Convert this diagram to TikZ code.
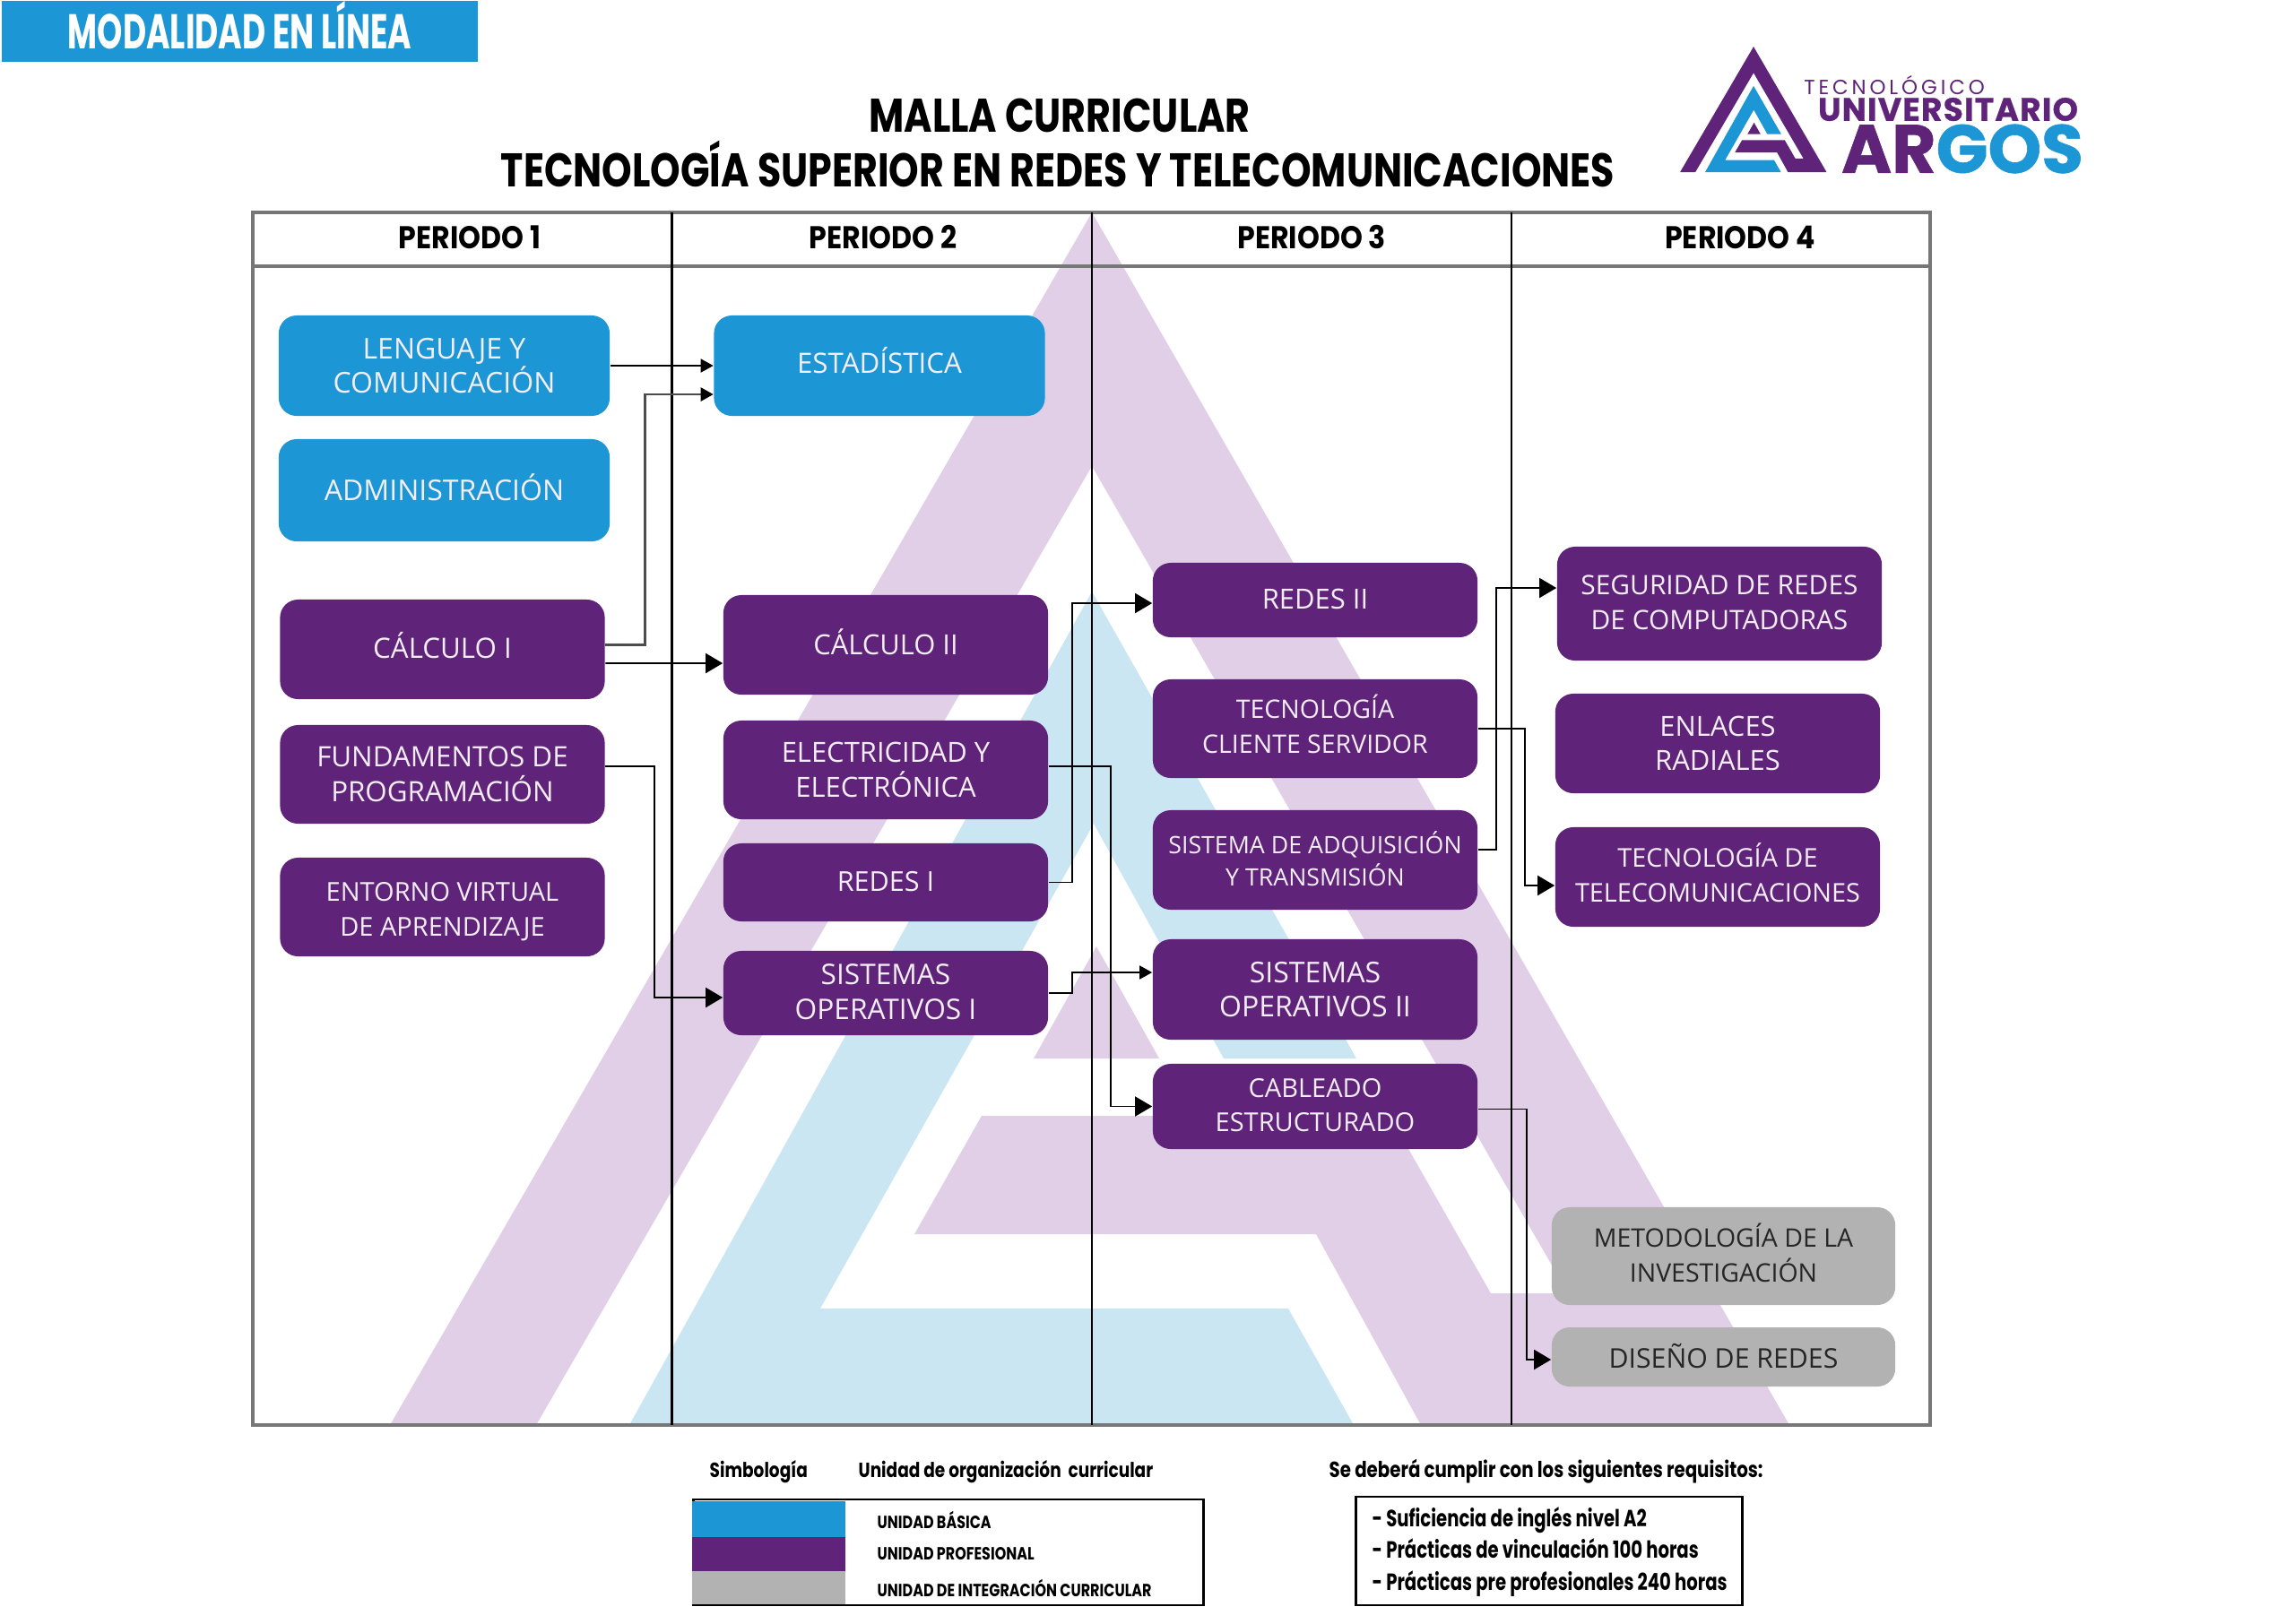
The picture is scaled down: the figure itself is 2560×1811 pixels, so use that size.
\documentclass[tikz,border=0pt]{standalone}
\usepackage{fontspec}
\setmainfont{Open Sans}
\newfontfamily\angosta[FakeStretch=0.75]{Poppins}
\newfontfamily\estrecha[FakeStretch=0.66]{Poppins}
\newfontfamily\mediana[FakeStretch=0.81]{Poppins}
\newfontfamily\ancha[FakeStretch=0.9]{Poppins}
\newfontfamily\poppins{Poppins}
\usepackage{tikz}
\usetikzlibrary{
  positioning,
  arrows.meta
}
\usepackage{xcolor}
\definecolor{basica}{HTML}{1C96D5}
\definecolor{profesional}{HTML}{5F2479}
\definecolor{integracion}{HTML}{B2B2B2}
\definecolor{moradoclaro}{HTML}{E0CFE6}
\definecolor{azulclaro}{HTML}{CBE6F3}
\definecolor{linea}{HTML}{777777}
\definecolor{textoclaro}{HTML}{F3EDF5}
\newcommand{\marcaargos}[2]{
  \fill[#1] (435,1590) -- (1218,237) -- (1996,1590) -- (1585,1590) -- (1468,1377)
    -- (1020,1377) -- (1095,1245) -- (1550,1245) -- (1663,1443) -- (1749,1443)
    -- (1218,520) -- (598,1590) -- cycle;
  \fill[#2] (702,1590) -- (1218,660) -- (1513,1181) -- (1365,1181) -- (1220,919)
    -- (915,1460) -- (1437,1460) -- (1510,1590) -- cycle;
  \fill[#1] (1223,1056) -- (1293,1181) -- (1153,1181) -- cycle;
}

\begin{document}
\begin{tikzpicture}[
  x=0.01cm, y=-0.01cm,
  letra/.style={font=\fontsize{#1}{11}\selectfont},
  curso/.style={rounded corners=0.2cm, inner sep=0pt, align=center, text=textoclaro,
               letra=8.6},
  unidadbasica/.style={curso, fill=basica, minimum width=3.69cm},
  unidadprofesional/.style={curso, fill=profesional, minimum width=3.62cm},
  unidadintegracion/.style={curso, fill=integracion, text=black!85, minimum width=3.83cm},
  enlace/.style={line width=0.5pt, -{Triangle[length=1.9mm,width=2.2mm,color=black]}},
  enlacecorto/.style={line width=0.5pt, -{Triangle[length=1.4mm,width=1.5mm,color=black]}},
  periodo/.style={font=\ancha\bfseries\fontsize{10}{11}\selectfont, text height=0.24cm, text depth=0pt},
  leyenda/.style={font=\mediana\bfseries\fontsize{6.5}{8}\selectfont, anchor=west, inner sep=0pt},
  unidadtexto/.style={leyenda, font=\mediana\bfseries\fontsize{5.6}{7}\selectfont},
]
  \useasboundingbox (0,0) rectangle (2560,1811);

  \marcaargos{moradoclaro}{azulclaro}

  \draw[line width=1pt, linea] (282,237) rectangle (2153,1590);
  \draw[line width=1pt, linea] (282,297) -- (2153,297);
  \foreach \columna in {749.5,1218,1686}
    \draw[line width=0.6pt] (\columna,237) -- (\columna,1590);

  \node[periodo] (p1) at (524,265) {PERIODO 1};
  \node[periodo] (p2) at (985,265) {PERIODO 2};
  \node[periodo] (p3) at (1463,265) {PERIODO 3};
  \node[periodo] (p4) at (1941,265) {PERIODO 4};

  \node[fill=basica, minimum width=5.31cm, minimum height=0.66cm, inner sep=0pt,
        text=white, font=\estrecha\bfseries\fontsize{15.5}{16}\selectfont, text depth=0.14cm] (modalidad) at (267.5,35) {MODALIDAD EN LÍNEA};

  \node[font=\mediana\bfseries\fontsize{15}{16}\selectfont] (titulo) at (1182,129) {MALLA CURRICULAR};
  \node[font=\mediana\bfseries\fontsize{15}{16}\selectfont] (subtitulo) at (1180,183) {TECNOLOGÍA SUPERIOR EN REDES Y TELECOMUNICACIONES};

  \begin{scope}[shift={(1828.5,27.5)}, xscale=0.1047, yscale=0.1035]
    \marcaargos{profesional}{basica}
  \end{scope}
  \node[font=\poppins\fontsize{6.5}{7}\selectfont, text=profesional] (tecno) at (2113,95)
    {\addfontfeature{LetterSpace=17}TECNOLÓGICO};
  \node[font=\poppins\bfseries\fontsize{10.3}{11}\selectfont, text=profesional] (univ) at (2173,122)
    {\addfontfeature{LetterSpace=3,FakeBold=0.6}UNIVERSITARIO};
  \node[font=\poppins\bfseries\fontsize{21.6}{22}\selectfont] (argos) at (2189,166)
    {\addfontfeature{FakeBold=0.8}\textcolor{profesional}{AR}\textcolor{basica}{GOS}};

  \node[unidadbasica, minimum height=1.12cm, letra=9.1] (lenguaje) at (495.5,408) {LENGUAJE Y\\COMUNICACIÓN};
  \node[unidadbasica, minimum height=1.14cm, letra=9.1, text depth=0.065cm] (administracion) at (495.5,547) {ADMINISTRACIÓN};
  \node[unidadbasica, minimum height=1.12cm, letra=8.9, text depth=0.13cm] (estadistica) at (981,408) {ESTADÍSTICA};

  \node[unidadprofesional, minimum height=1.11cm, letra=8.9, text depth=0.10cm] (calculoi) at (493.5,724.5) {CÁLCULO I};
  \node[unidadprofesional, minimum height=1.10cm, letra=8.9] (fundamentos) at (493.5,864) {FUNDAMENTOS DE\\PROGRAMACIÓN};
  \node[unidadprofesional, minimum height=1.10cm, letra=8.25, text height=0.65cm, text depth=0pt] (entorno) at (493.5,1012) {ENTORNO VIRTUAL\\DE APRENDIZAJE};

  \node[unidadprofesional, minimum height=1.11cm, letra=8.8, text depth=0.065cm] (calculoii) at (988,719.5) {CÁLCULO II};
  \node[unidadprofesional, minimum height=1.10cm, letra=8.8] (electricidad) at (988,859) {ELECTRICIDAD Y\\ELECTRÓNICA};
  \node[unidadprofesional, minimum height=0.87cm, letra=8.7, text depth=0.03cm] (redesi) at (988,984.5) {REDES I};
  \node[unidadprofesional, minimum height=0.94cm, letra=9, text depth=0.03cm] (sistemasi) at (988,1108) {SISTEMAS\\OPERATIVOS I};

  \node[unidadprofesional, minimum height=0.83cm, letra=8.8, text depth=0.03cm] (redesii) at (1467,669.5) {REDES II};
  \node[unidadprofesional, minimum height=1.10cm, letra=8.1, text depth=0.11cm] (cliente) at (1467,813) {TECNOLOGÍA\\CLIENTE SERVIDOR};
  \node[unidadprofesional, minimum height=1.11cm, font=\fontsize{7.6}{10}\selectfont, text depth=0.03cm] (adquisicion) at (1467,959.5) {SISTEMA DE ADQUISICIÓN\\Y TRANSMISIÓN};
  \node[unidadprofesional, minimum height=1.12cm, letra=9.1] (sistemasii) at (1467,1104) {SISTEMAS\\OPERATIVOS II};
  \node[unidadprofesional, minimum height=0.95cm, letra=8.25, text depth=0.03cm] (cableado) at (1467,1234.5) {CABLEADO\\ESTRUCTURADO};

  \node[unidadprofesional, minimum height=1.27cm, letra=8.5, text depth=0.03cm] (seguridad) at (1918,673.5) {SEGURIDAD DE REDES\\DE COMPUTADORAS};
  \node[unidadprofesional, minimum height=1.11cm, letra=8.8] (enlaces) at (1916,829.5) {ENLACES\\RADIALES};
  \node[unidadprofesional, minimum height=1.11cm, letra=8.2, text depth=0.10cm] (telecom) at (1916,978.5) {TECNOLOGÍA DE\\TELECOMUNICACIONES};
  \node[unidadintegracion, minimum height=1.09cm, letra=8.1, text depth=0.08cm] (metodologia) at (1922.5,1401.5) {METODOLOGÍA DE LA\\INVESTIGACIÓN};
  \node[unidadintegracion, minimum height=0.66cm, text depth=0.03cm] (diseno) at (1922.5,1514) {DISEÑO DE REDES};

  \draw[enlacecorto] (lenguaje.east) -- (estadistica.west);
  \draw[enlacecorto, draw=black!70, line width=0.7pt] ([yshift=0.05cm]calculoi.east) -| ([xshift=-0.76cm,yshift=-0.32cm]estadistica.west) -- ([yshift=-0.32cm]estadistica.west);
  \draw[enlace] ([yshift=-0.155cm]calculoi.east) -- ([yshift=-0.205cm]calculoii.west);
  \draw[enlace] ([yshift=0.09cm]fundamentos.east) -| ([xshift=-0.765cm,yshift=-0.05cm]sistemasi.west) -- ([yshift=-0.05cm]sistemasi.west);
  \draw[enlace] ([yshift=0.04cm]electricidad.east) -| ([xshift=-0.46cm]cableado.west) -- (cableado.west);
  \draw[enlace] (redesi.east) -| ([xshift=-0.89cm,yshift=-0.035cm]redesii.west) -- ([yshift=-0.035cm]redesii.west);
  \draw[enlacecorto] (sistemasi.east) -| ([xshift=-0.89cm,yshift=0.19cm]sistemasii.west) -- ([yshift=0.19cm]sistemasii.west);
  \draw[enlace] (cliente.east) -| ([xshift=-0.33cm,yshift=-0.095cm]telecom.west) -- ([yshift=-0.095cm]telecom.west);
  \draw[enlace] ([yshift=0.115cm]adquisicion.east) -| ([xshift=-0.67cm,yshift=0.175cm]seguridad.west) -- ([yshift=0.175cm]seguridad.west);
  \draw[enlace] ([yshift=-0.03cm]cableado.east) -| ([xshift=-0.275cm,yshift=-0.03cm]diseno.west) -- ([yshift=-0.03cm]diseno.west);

  \node[leyenda] (simbologia) at (791,1642) {Simbología};
  \node[leyenda] (unidad) at (957,1642) {Unidad de organización\ \ curricular};
  \node[leyenda, font=\mediana\bfseries\fontsize{6.95}{8}\selectfont] (requisitos) at (1482,1642) {Se deberá cumplir con los siguientes requisitos:};

  \node[draw, line width=0.8pt, minimum width=5.69cm, minimum height=1.18cm, inner sep=0pt] (cuadro) at (1058,1732) {};
  \node[fill=basica, minimum width=1.71cm, minimum height=0.40cm, inner sep=0pt] (simbolobasica) at (857.5,1695) {};
  \node[fill=profesional, minimum width=1.71cm, minimum height=0.38cm, inner sep=0pt] (simboloprofesional) at (857.5,1734) {};
  \node[fill=integracion, minimum width=1.71cm, minimum height=0.37cm, inner sep=0pt] (simbolointegracion) at (857.5,1771.5) {};
  \node[unidadtexto] (textobasica) at (978,1696) {UNIDAD BÁSICA};
  \node[unidadtexto] (textoprofesional) at (978,1734) {UNIDAD PROFESIONAL};
  \node[unidadtexto] (textointegracion) at (978,1772) {UNIDAD DE INTEGRACIÓN CURRICULAR};

  \node[draw, line width=0.8pt, minimum width=4.30cm, minimum height=1.21cm, inner sep=0pt] (cuadrorequisitos) at (1728,1730.5) {};
  \node[leyenda, align=left, font=\angosta\bfseries\fontsize{7.45}{10}\selectfont] (textorequisitos) at (1530,1731.5)
    {- Suficiencia de inglés nivel A2\\- Prácticas de vinculación 100 horas\\- Prácticas pre profesionales 240 horas};
\end{tikzpicture}
\end{document}
